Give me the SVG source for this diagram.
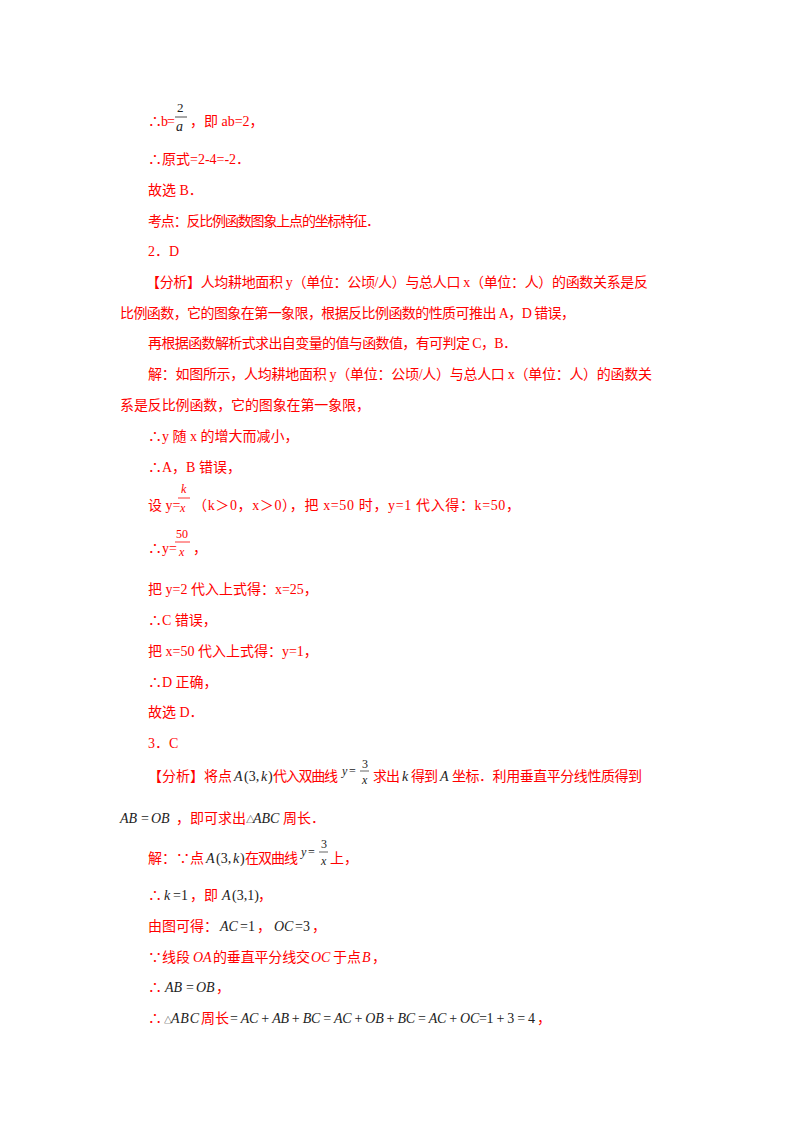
<svg xmlns="http://www.w3.org/2000/svg" width="800" height="1132" viewBox="0 0 800 1132">
<style>
text{font-family:"Liberation Serif","Noto Sans CJK SC",serif;font-size:14px;fill:#ff0000}
.m{font-style:italic;fill:#222}
.s{font-size:12px}
.k{fill:#222}
</style>
<rect width="800" height="1132" fill="#fff"/>
<g id="text">
<text x="148" y="126" textLength="27">∴b=</text>
<text x="177" y="112" class="k" style="font-size:13px">2</text>
<line x1="175" y1="117" x2="187" y2="117" stroke="#222" stroke-width="0.8"/>
<text x="176" y="131" class="m">a</text>
<text x="190" y="126">，即 ab=2，</text>
<text x="148" y="164">∴原式=2-4=-2．</text>
<text x="148" y="195">故选 B．</text>
<text x="148" y="226" textLength="232">考点：反比例函数图象上点的坐标特征．</text>
<text x="148" y="256">2．D</text>
<text x="146" y="287" textLength="502">【分析】人均耕地面积 y（单位：公顷/人）与总人口 x（单位：人）的函数关系是反</text>
<text x="120" y="318" textLength="455">比例函数，它的图象在第一象限，根据反比例函数的性质可推出 A，D 错误，</text>
<text x="148" y="348" textLength="369">再根据函数解析式求出自变量的值与函数值，有可判定 C，B．</text>
<text x="148" y="379" textLength="504">解：如图所示，人均耕地面积 y（单位：公顷/人）与总人口 x（单位：人）的函数关</text>
<text x="120" y="410" textLength="250">系是反比例函数，它的图象在第一象限，</text>
<text x="148" y="441">∴y 随 x 的增大而减小，</text>
<text x="148" y="472">∴A，B 错误，</text>
<text x="148" y="510">设 y=</text>
<text x="181" y="493" class="m s" style="fill:#ff0000">k</text>
<line x1="178" y1="498" x2="190" y2="498" stroke="#ff0000" stroke-width="0.8"/>
<text x="180" y="512" class="m s" style="fill:#ff0000">x</text>
<text x="193" y="510" textLength="327">（k＞0，x＞0），把 x=50 时，y=1 代入得：k=50，</text>
<text x="148" y="553">∴y=</text>
<text x="176" y="538" class="s">50</text>
<line x1="175" y1="542" x2="190" y2="542" stroke="#ff0000" stroke-width="0.8"/>
<text x="179" y="556" class="m s" style="fill:#ff0000">x</text>
<text x="193" y="553">，</text>
<text x="148" y="594">把 y=2 代入上式得：x=25，</text>
<text x="148" y="625">∴C 错误，</text>
<text x="148" y="656">把 x=50 代入上式得：y=1，</text>
<text x="148" y="687">∴D 正确，</text>
<text x="148" y="717">故选 D．</text>
<text x="148" y="748">3．C</text>
<text x="148" y="781" textLength="84">【分析】将点</text>
<text x="234" y="781" class="m">A</text><text x="244" y="781" class="k">(3,</text><text x="261" y="781" class="m">k</text><text x="268" y="781" class="k">)</text>
<text x="273" y="781" textLength="65">代入双曲线</text>
<text x="342" y="775" class="m s">y</text><text x="349" y="775" class="k s">=</text>
<text x="362" y="768" class="k s">3</text>
<line x1="360" y1="771" x2="369" y2="771" stroke="#222" stroke-width="0.7"/>
<text x="362" y="784" class="m s">x</text>
<text x="373" y="781" textLength="27">求出</text><text x="402" y="781" class="m">k</text><text x="411" y="781" textLength="27">得到</text><text x="440" y="781" class="m">A</text><text x="452" y="781" textLength="190">坐标．利用垂直平分线性质得到</text>
<text x="120" y="823" class="m">AB</text><text x="141" y="823" class="k">=</text><text x="151" y="823" class="m">OB</text>
<text x="176" y="823">，即可求出</text>
<text x="246" y="823" class="k" style="font-size:9px">△</text><text x="253" y="823" class="m">ABC</text>
<text x="283" y="823">周长．</text>
<text x="148" y="863">解：∵点</text>
<text x="206" y="863" class="m">A</text><text x="216" y="863" class="k">(3,</text><text x="233" y="863" class="m">k</text><text x="240" y="863" class="k">)</text>
<text x="245" y="863" textLength="53">在双曲线</text>
<text x="301" y="856" class="m s">y</text><text x="308" y="856" class="k s">=</text>
<text x="321" y="848" class="k s">3</text>
<line x1="319" y1="852" x2="328" y2="852" stroke="#222" stroke-width="0.7"/>
<text x="321" y="865" class="m s">x</text>
<text x="330" y="863">上，</text>
<text x="148" y="900">∴</text><text x="164" y="900" class="m">k</text><text x="173" y="900" class="k">=1</text><text x="190" y="900">，即</text>
<text x="222" y="900" class="m">A</text><text x="232" y="900" class="k">(3,1)</text><text x="258" y="900">，</text>
<text x="148" y="931">由图可得：</text><text x="220" y="931" class="m">AC</text><text x="240" y="931" class="k">=1</text><text x="257" y="931">，</text>
<text x="274" y="931" class="m">OC</text><text x="295" y="931" class="k">=3</text><text x="312" y="931">，</text>
<text x="148" y="962">∵线段</text><text x="193" y="962" class="m" style="fill:#ff0000">OA</text><text x="213" y="962" textLength="97">的垂直平分线交</text><text x="311" y="962" class="m" style="fill:#ff0000">OC</text><text x="333" y="962">于点</text><text x="362" y="962" class="m" style="fill:#ff0000">B</text><text x="372" y="962">，</text>
<text x="148" y="992">∴</text><text x="165" y="992" class="m">AB</text><text x="186" y="992" class="k">=</text><text x="196" y="992" class="m">OB</text><text x="216" y="992">，</text>
<text x="148" y="1023">∴</text><text x="164" y="1023" class="k" style="font-size:8px">△</text><text x="171" y="1023" class="m" textLength="28">ABC</text><text x="201" y="1023">周长</text>
<text x="230" y="1023" class="k" textLength="305">= <tspan font-style="italic">AC</tspan> + <tspan font-style="italic">AB</tspan> + <tspan font-style="italic">BC</tspan> = <tspan font-style="italic">AC</tspan> + <tspan font-style="italic">OB</tspan> + <tspan font-style="italic">BC</tspan> = <tspan font-style="italic">AC</tspan> + <tspan font-style="italic">OC</tspan>=1 + 3 = 4</text>
<text x="537" y="1023">，</text>
</g>
</svg>
